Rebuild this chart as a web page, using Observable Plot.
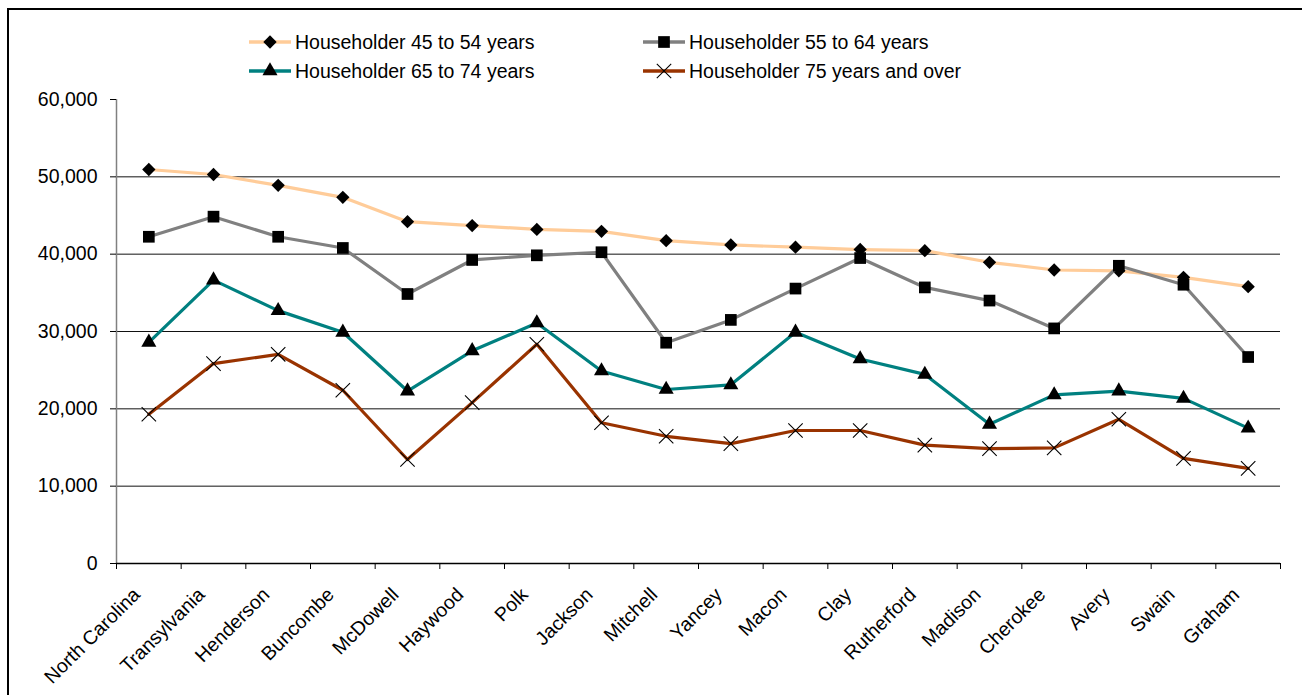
<!DOCTYPE html>
<html>
<head>
<meta charset="utf-8">
<script src="https://cdn.jsdelivr.net/npm/d3@7"></script>
<script src="https://cdn.jsdelivr.net/npm/@observablehq/plot@0.6"></script>
<style>
  body { margin: 0; background: #fff; font-family: "Liberation Sans", Arial, sans-serif; }
  #wrap { position: relative; width: 1302px; height: 695px; overflow: hidden; background: #fff; }
  #frame { position: absolute; left: 7px; top: 8px; width: 1400px; height: 800px; border-left: 2px solid #000; border-top: 2px solid #000; box-sizing: border-box; }
  #plot { position: absolute; left: 0; top: 80px; }
  .leg { position: absolute; display: flex; align-items: center; font-size: 19.5px; color: #000; white-space: nowrap; }
  .leg svg { margin-right: 4px; }
</style>
</head>
<body>
<div id="wrap">
  <div id="frame"></div>
  <div id="legend"></div>
  <div id="plot"></div>
</div>
<script>
const categories = ["North Carolina","Transylvania","Henderson","Buncombe","McDowell","Haywood","Polk","Jackson","Mitchell","Yancey","Macon","Clay","Rutherford","Madison","Cherokee","Avery","Swain","Graham"];
const seriesNames = ["Householder 45 to 54 years","Householder 55 to 64 years","Householder 65 to 74 years","Householder 75 years and over"];
const h45 = [50950, 50300, 48900, 47350, 44200, 43700, 43200, 42950, 41750, 41200, 40900, 40600, 40450, 38950, 37950, 37850, 37000, 35800];
const h55 = [42250, 44850, 42250, 40800, 34850, 39250, 39850, 40250, 28550, 31500, 35550, 39500, 35700, 34000, 30400, 38500, 36050, 26700];
const h65 = [28600, 36650, 32700, 29900, 22300, 27500, 31100, 24900, 22500, 23100, 29900, 26450, 24450, 18000, 21800, 22300, 21350, 17500];
const h75 = [19300, 25850, 27050, 22400, 13450, 20800, 28350, 18200, 16450, 15500, 17200, 17200, 15300, 14850, 14950, 18650, 13600, 12300];
const yTicks = [0, 10000, 20000, 30000, 40000, 50000, 60000];

const styles = [
  {color: "#FFCC99", symbol: "diamond2", r: 6.0, filled: true},
  {color: "#808080", symbol: "square", r: 6.6, filled: true},
  {color: "#008080", symbol: "triangle", r: 5.6, filled: true},
  {color: "#993300", symbol: "times", r: 6.6, filled: false}
];
const allValues = [h45, h55, h65, h75];
const rows = allValues.flatMap((vals, k) => vals.map((v, i) => ({i, v, s: seriesNames[k], k})));

const FS = 19.5;
const marks = [
  Plot.ruleY(yTicks.filter(t => t > 0 && t < 60000), {stroke: "#111", strokeWidth: 1}),
  Plot.ruleX([-0.5], {stroke: "#808080", strokeWidth: 1.5}),
  Plot.ruleY([0], {stroke: "#000", strokeWidth: 1.5}),
  Plot.axisY({ticks: yTicks, tickFormat: d3.format(","), tickSize: 6, tickPadding: 13, fontSize: FS, label: null}),
  Plot.axisX({ticks: d3.range(-0.5, categories.length, 1), tickSize: 6, tickFormat: () => "", label: null}),
  Plot.axisX({ticks: d3.range(categories.length), tickSize: 0, tickFormat: i => categories[i], tickRotate: -45, tickPadding: 28, dx: -12, fontSize: FS, label: null})
];
styles.forEach((st, k) => {
  const d = rows.filter(r => r.k === k);
  marks.push(Plot.line(d, {x: "i", y: "v", stroke: st.color, strokeWidth: 3.2}));
  marks.push(Plot.dot(d, st.filled
    ? {x: "i", y: "v", symbol: st.symbol, r: st.r, fill: "#000", stroke: "none"}
    : {x: "i", y: "v", symbol: st.symbol, r: st.r, fill: "none", stroke: "#000", strokeWidth: 1.1}));
});

const chart = Plot.plot({
  width: 1302,
  height: 615,
  marginLeft: 116,
  marginRight: 22,
  marginTop: 19,
  marginBottom: 132,
  style: {fontFamily: "'Liberation Sans', Arial, sans-serif", fontSize: FS + "px", color: "#000", background: "transparent"},
  x: {type: "linear", domain: [-0.5, categories.length - 0.5]},
  y: {domain: [0, 60000]},
  marks
});
document.getElementById("plot").appendChild(chart);

// legend
const legPos = [[249, 42], [643, 42], [249, 71], [643, 71]];
const legend = document.getElementById("legend");
seriesNames.forEach((name, k) => {
  const st = styles[k];
  const div = document.createElement("div");
  div.className = "leg";
  div.style.left = legPos[k][0] + "px";
  div.style.top = (legPos[k][1] - 12) + "px";
  div.style.height = "24px";
  const svg = d3.create("svg").attr("width", 42).attr("height", 24);
  svg.append("line").attr("x1", 0).attr("x2", 42).attr("y1", 12).attr("y2", 12).attr("stroke", st.color).attr("stroke-width", 3.5);
  const symMap = {diamond2: d3.symbolDiamond2, square: d3.symbolSquare, triangle: d3.symbolTriangle, times: d3.symbolTimes};
  const p = d3.symbol(symMap[st.symbol], Math.PI * st.r * st.r)();
  svg.append("path").attr("d", p).attr("transform", "translate(21,12)")
    .attr("fill", st.filled ? "#000" : "none").attr("stroke", st.filled ? "none" : "#000").attr("stroke-width", 1.1);
  div.appendChild(svg.node());
  const span = document.createElement("span");
  span.textContent = name;
  div.appendChild(span);
  legend.appendChild(div);
});
</script>
</body>
</html>
